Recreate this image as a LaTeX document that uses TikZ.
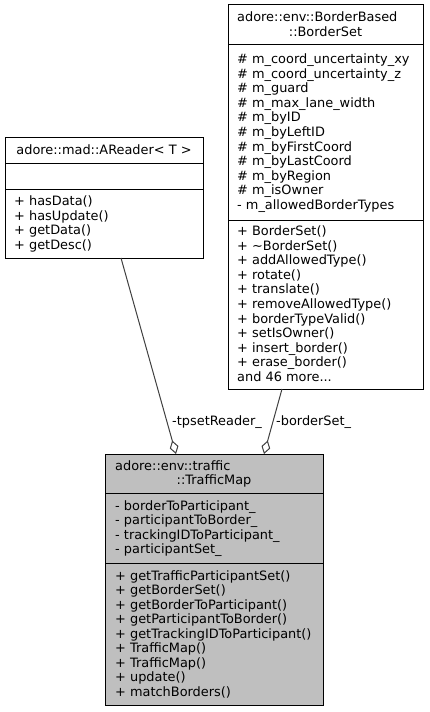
\documentclass[tikz,border=0pt]{standalone}
\usepackage{fontspec}
\setmainfont{DejaVu Sans}
\usetikzlibrary{arrows.meta,calc}
\definecolor{edgegray}{HTML}{404040}
\definecolor{focusfill}{HTML}{BFBFBF}
\newcommand{\dvfont}{\fontsize{12.9bp}{14.6bp}\selectfont}
\newcommand{\threedots}{...}
\begin{document}
\begin{tikzpicture}[x=1bp,y=-1bp,
  umlbox/.style={draw=black, line width=1bp, anchor=north west, inner sep=0pt, outer sep=0pt, fill=white},
  focusbox/.style={umlbox, fill=focusfill},
  sepline/.style={draw=black, line width=1bp},
  txt/.style={anchor=base west, inner sep=0pt, font=\dvfont},
  ctxt/.style={anchor=base, inner sep=0pt, font=\dvfont},
  edge/.style={draw=edgegray, line width=1bp, {Diamond[open,length=14bp,width=9bp]}-},
  lbl/.style={anchor=base west, inner sep=0pt, font=\dvfont}]
\useasboundingbox (0,0) rectangle (429,712);

% ---------- BorderSet ----------
\node[umlbox, minimum width=195bp, minimum height=384bp] (bs) at (228,5) {};
\draw[sepline] (228,45) -- (423,45);
\draw[sepline] (228,220) -- (423,220);
\node[txt] (bst1) at (237,21.6) {adore::env::BorderBased};
\node[ctxt] (bst2) at (325.5,36.3) {::BorderSet};
\foreach \t [count=\i from 0] in {\# m\_coord\_uncertainty\_xy,\# m\_coord\_uncertainty\_z,\# m\_guard,\# m\_max\_lane\_width,\# m\_byID,\# m\_byLeftID,\# m\_byFirstCoord,\# m\_byLastCoord,\# m\_byRegion,\# m\_isOwner,- m\_allowedBorderTypes}
  \node[txt] (bsa\i) at (237,{63.5+\i*14.6}) {\t};
\foreach \t [count=\i from 0] in {+ BorderSet(),+ \textasciitilde BorderSet(),+ addAllowedType(),+ rotate(),+ translate(),+ removeAllowedType(),+ borderTypeValid(),+ setIsOwner(),+ insert\_border(),+ erase\_border(),and 46 more\threedots}
  \node[txt] (bsm\i) at (237,{235.5+\i*14.6}) {\t};

% ---------- AReader ----------
\node[umlbox, minimum width=198bp, minimum height=121bp] (ar) at (5,137) {};
\draw[sepline] (5,163) -- (203,163);
\draw[sepline] (5,189) -- (203,189);
\node[ctxt] (art) at (104,154) {adore::mad::AReader< T >};
\foreach \t [count=\i from 0] in {+ hasData(),+ hasUpdate(),+ getData(),+ getDesc()}
  \node[txt] (arm\i) at (14,{205.5+\i*14.6}) {\t};

% ---------- TrafficMap ----------
\node[focusbox, minimum width=218bp, minimum height=251bp] (tm) at (105,454) {};
\draw[sepline] (105,493) -- (323,493);
\draw[sepline] (105,563) -- (323,563);
\node[txt] (tmt1) at (115,470.1) {adore::env::traffic};
\node[ctxt] (tmt2) at (214,484.7) {::TrafficMap};
\foreach \t [count=\i from 0] in {- borderToParticipant\_,- participantToBorder\_,- trackingIDToParticipant\_,- participantSet\_}
  \node[txt] (tma\i) at (115,{510+\i*14.6}) {\t};
\foreach \t [count=\i from 0] in {+ getTrafficParticipantSet(),+ getBorderSet(),+ getBorderToParticipant(),+ getParticipantToBorder(),+ getTrackingIDToParticipant(),+ TrafficMap(),+ TrafficMap(),+ update(),+ matchBorders()}
  \node[txt] (tmm\i) at (115,{580+\i*14.55}) {\t};

% ---------- connectors ----------
\draw[edge] ($(tm.north west)+(71,0)$) -- ($(ar.south west)+(116,0)$);
\draw[edge] ($(tm.north west)+(159,0)$) -- ($(bs.south west)+(54,0)$);
\node[lbl] (l1) at (172,425) {-tpsetReader\_};
\node[lbl] (l2) at (276,425) {-borderSet\_};
\end{tikzpicture}
\end{document}
